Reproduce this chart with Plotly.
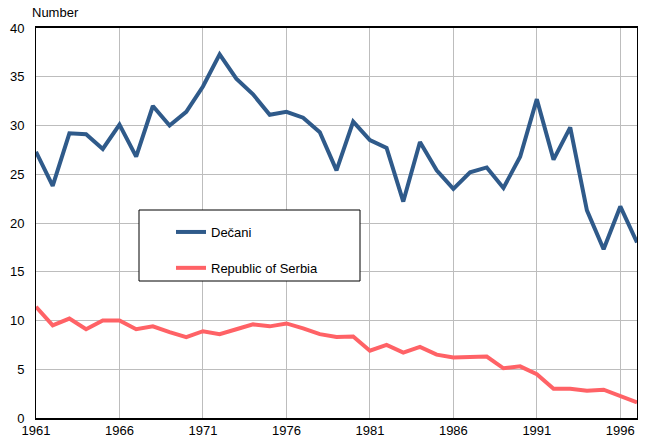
import plotly.graph_objects as go

years = list(range(1961, 1998))
decani = [27.3, 23.8, 29.2, 29.1, 27.6, 30.1, 26.8, 32.0, 30.0, 31.4,
          34.0, 37.3, 34.8, 33.2, 31.1, 31.4, 30.8, 29.3, 25.4, 30.4,
          28.5, 27.7, 22.2, 28.3, 25.4, 23.5, 25.2, 25.7, 23.6, 26.8,
          32.7, 26.5, 29.8, 21.3, 17.3, 21.7, 18.0]
serbia = [11.4, 9.5, 10.2, 9.1, 10.0, 10.0, 9.1, 9.4, 8.8, 8.3,
          8.9, 8.6, 9.1, 9.6, 9.4, 9.7, 9.2, 8.6, 8.3, 8.35,
          6.9, 7.5, 6.7, 7.3, 6.5, 6.2, 6.25, 6.3, 5.1, 5.3,
          4.5, 3.0, 3.0, 2.8, 2.9, 2.2, 1.6]
x_ticks = [1961, 1966, 1971, 1976, 1981, 1986, 1991, 1996]
y_ticks = [0, 5, 10, 15, 20, 25, 30, 35, 40]

FONT = "Liberation Sans, Arial, sans-serif"

fig = go.Figure()
fig.add_trace(go.Scatter(x=years, y=decani, mode="lines", name="Dečani",
                         legendgroup="a",
                         line=dict(color="#2F5A8A", width=4)))
fig.add_trace(go.Scatter(x=years, y=serbia, mode="lines", name="Republic of Serbia",
                         legendgroup="b",
                         line=dict(color="#FF6266", width=4)))

W, H = 648, 439
L, R, T, B = 36, 11, 28, 21
pw, ph = W - L - R, H - T - B

def px_x(p):
    return (p - L) / pw

def px_y(p):
    return (H - B - p) / ph

fig.update_layout(
    width=W, height=H,
    margin=dict(l=L, r=R, t=T, b=B, autoexpand=False),
    paper_bgcolor="white", plot_bgcolor="white",
    font=dict(family=FONT, size=13, color="black"),
    showlegend=True,
    legend=dict(x=px_x(171), y=px_y(217), xanchor="left", yanchor="top",
                bgcolor="rgba(0,0,0,0)", borderwidth=0,
                tracegroupgap=16, font=dict(size=13)),
    xaxis=dict(range=[1961, 1997], tickvals=x_ticks, showgrid=True, automargin=False,
               gridcolor="#BDBDBD", gridwidth=1, showline=True, linecolor="black",
               linewidth=1.5, mirror=True, ticks="",
               zeroline=False),
    yaxis=dict(range=[0, 40], tickvals=y_ticks, showgrid=True, automargin=False,
               gridcolor="#BDBDBD", gridwidth=1, showline=True, linecolor="black",
               linewidth=1, mirror=True, ticks="outside", ticklen=8,
               tickcolor="rgba(0,0,0,0)", zeroline=False),
    shapes=[dict(type="rect", xref="paper", yref="paper",
                 x0=px_x(139), x1=px_x(360), y0=px_y(281), y1=px_y(210),
                 line=dict(color="black", width=1), fillcolor="white", layer="above")],
    annotations=[
        dict(text="Number", xref="paper", yref="paper", x=px_x(30), y=px_y(13),
             xanchor="left", yanchor="middle", showarrow=False,
             font=dict(size=13, family=FONT)),
    ],
)

fig.write_html("out.html", config={"displayModeBar": False},
               post_script="document.body.style.margin='0';document.body.style.padding='0';")
